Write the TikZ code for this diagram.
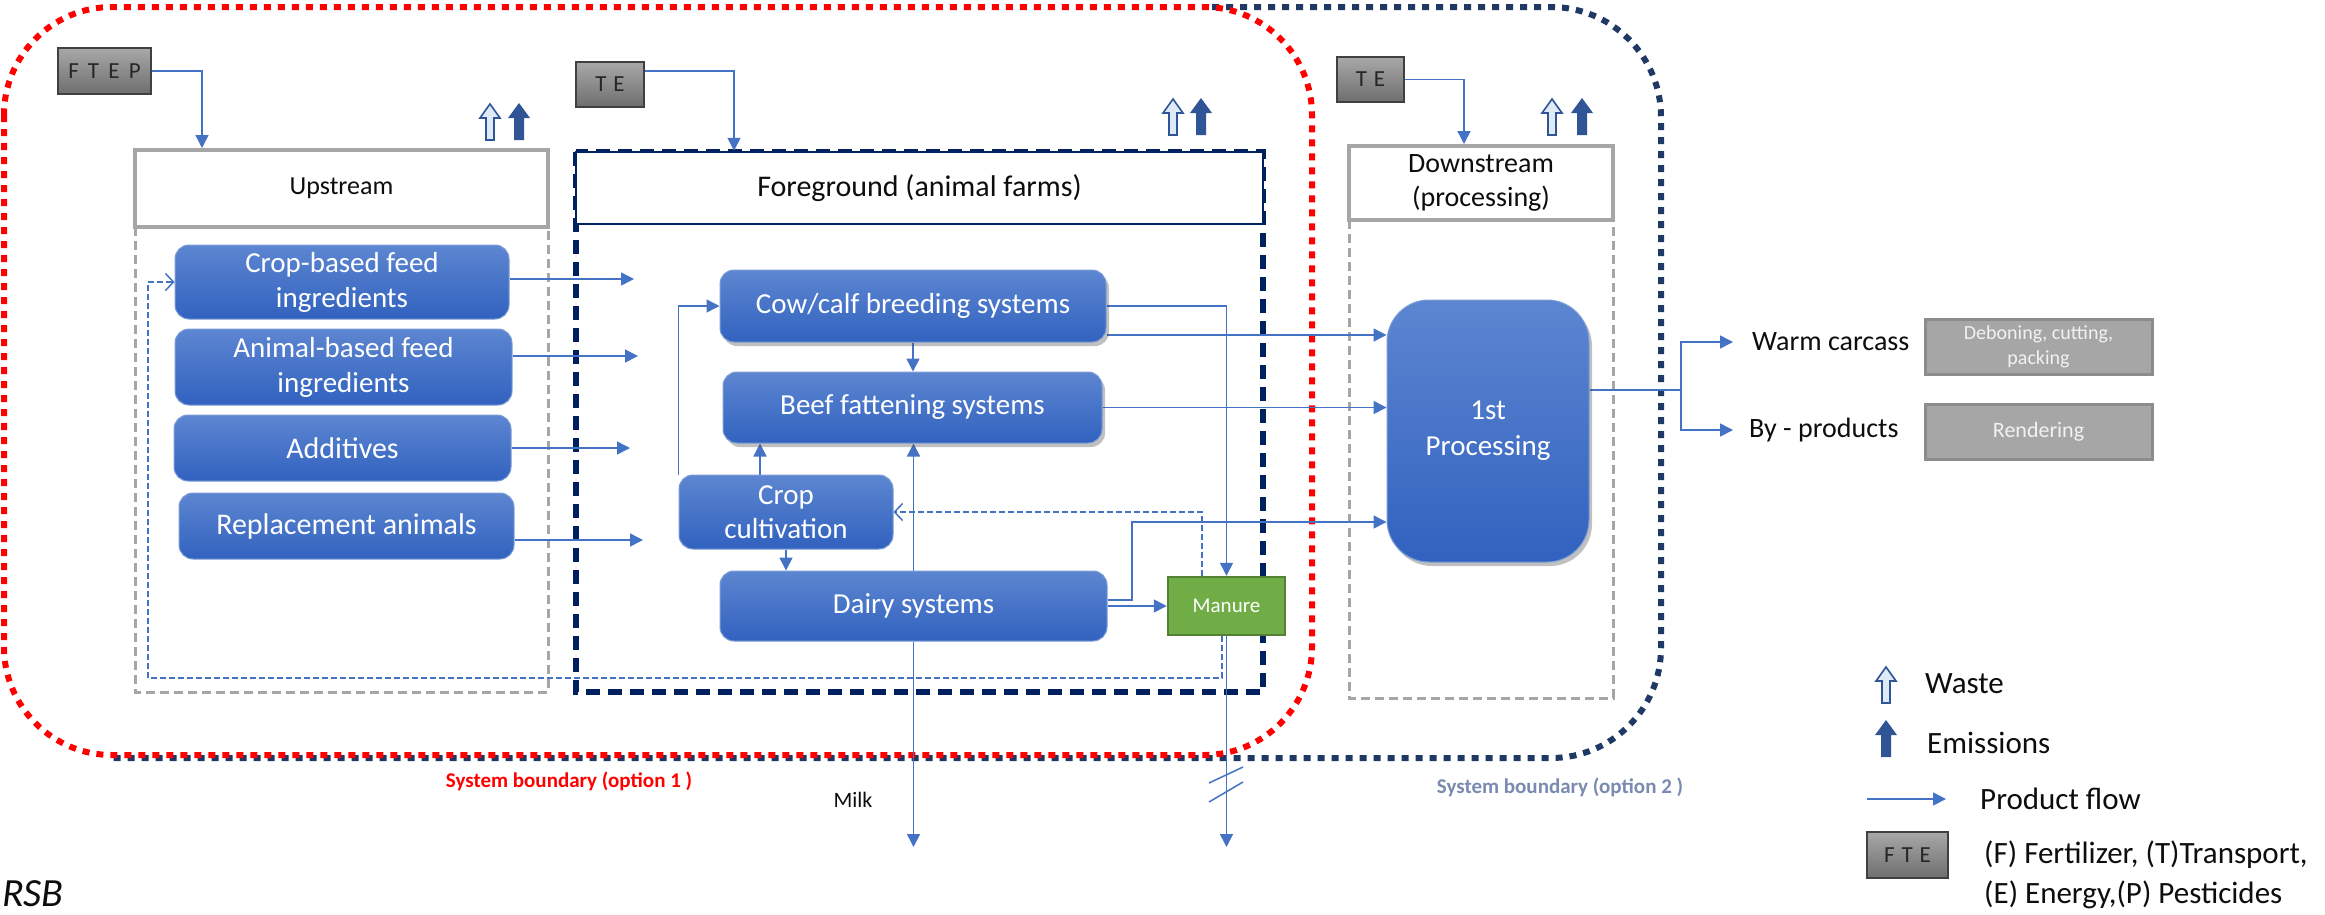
\documentclass[tikz,border=0pt]{standalone}
\usepackage{fontspec}
\setmainfont{Carlito}
\usetikzlibrary{arrows.meta,shadows}
\pgfdeclarelayer{bg}
\pgfsetlayers{bg,main}
\definecolor{flowblue}{HTML}{4472C4}
\definecolor{bluetop}{HTML}{5D86D1}
\definecolor{bluebot}{HTML}{3162BF}
\definecolor{navy}{HTML}{002060}
\definecolor{navyb}{HTML}{1F3864}
\definecolor{emis}{HTML}{2F5597}
\definecolor{wastefill}{HTML}{DEEBF7}
\definecolor{grayline}{HTML}{A6A6A6}
\definecolor{manfill}{HTML}{70AD47}
\definecolor{manline}{HTML}{548235}
\definecolor{opttwo}{HTML}{7A8AB0}
\definecolor{gtop}{HTML}{A8A8A8}
\definecolor{gbot}{HTML}{6E6E6E}
\definecolor{outgray}{HTML}{A6A6A6}
\definecolor{txt}{HTML}{0D0D0D}
\newcommand{\fsz}[2]{\fontsize{#1}{#2}\selectfont}
\begin{document}
\begin{tikzpicture}[x=1pt,y=-1pt,
  bluebox/.style={draw=flowblue!70!white, line width=1, rounded corners=14,
    top color=bluetop, bottom color=bluebot, text=white, align=center,
    inner sep=0, font=\fsz{29}{35}},
  shad/.style={drop shadow={shadow xshift=3pt, shadow yshift=-4pt, opacity=0.35, fill=black!70}},
  headbox/.style={draw=grayline, line width=4, fill=white, inner sep=0, align=center, text=txt},
  graybox/.style={draw=black!75, line width=2, top color=gtop, bottom color=gbot,
    text=black!85, inner sep=0, font=\fsz{23}{27}},
  outbox/.style={draw=black!45, line width=3, fill=outgray, text=white!95!black,
    align=center, inner sep=0},
  flowline/.style={draw=flowblue, line width=1.5},
  flow/.style={flowline, -{Triangle[length=13pt,width=13pt]}},
  dflow/.style={flowline, dash pattern=on 6pt off 3pt, -{Straight Barb[length=8pt,width=17pt]}},
  graydash/.style={draw=grayline, line width=3, dash pattern=on 9pt off 5pt},
  navydash/.style={draw=navy, line width=6, dash pattern=on 14pt off 8pt},
  legtext/.style={anchor=west, inner sep=0, text=txt},
  pics/wastearr/.style={code={\draw[emis, line width=1.6, fill=wastefill]
    (-4,0) -- (-4,-22) -- (-10,-22) -- (0,-36) -- (10,-22) -- (4,-22) -- (4,0) -- cycle;}},
  pics/emisarr/.style={code={\fill[emis]
    (-5,0) -- (-5,-22) -- (-11,-22) -- (0,-37) -- (11,-22) -- (5,-22) -- (5,0) -- cycle;}}
]
\useasboundingbox (0,0) rectangle (2325,914);

% ---------- header boxes
\node[headbox, minimum width=413, minimum height=77, font=\fsz{26}{31}] (uphead) at (341.5,188.5) {Upstream};
\node[headbox, draw=navy, line width=2.5, minimum width=687, minimum height=72, font=\fsz{30}{36}] (fghead) at (919.5,188) {Foreground (animal farms)};
\node[headbox, minimum width=264, minimum height=74, font=\fsz{28}{34}] (dshead) at (1481,183) {Downstream\\(processing)};

% ---------- input boxes
\node[graybox, minimum width=93, minimum height=46] (ftep) at (104.5,71) {\addfontfeature{LetterSpace=40}FTEP};
\node[graybox, minimum width=68, minimum height=45] (teone) at (610,84.5) {\addfontfeature{LetterSpace=30}TE};
\node[graybox, minimum width=67, minimum height=45] (tetwo) at (1370.5,79.5) {\addfontfeature{LetterSpace=30}TE};

% ---------- upstream boxes
\node[bluebox, minimum width=334, minimum height=74] (cropfeed) at (342,282) {Crop-based feed\\ingredients};
\node[bluebox, minimum width=337, minimum height=76] (animfeed) at (343.5,367) {Animal-based feed\\ingredients};
\node[bluebox, minimum width=337, minimum height=66, font=\fsz{30}{36}] (additives) at (342.5,448) {Additives};
\node[bluebox, minimum width=335, minimum height=66, font=\fsz{30}{36}] (replace) at (346.5,526) {Replacement animals};

% ---------- foreground boxes
\node[bluebox, shad, minimum width=386, minimum height=72] (cow) at (913,306) {Cow/calf breeding systems};
\node[bluebox, shad, minimum width=379, minimum height=71] (beef) at (912.5,407.5) {Beef fattening systems};
\node[bluebox, minimum width=214, minimum height=74, font=\fsz{29}{34}] (crop) at (786,512) {Crop\\cultivation};
\node[bluebox, minimum width=387, minimum height=70] (dairy) at (913.5,606) {Dairy systems};
\node[draw=manline, line width=2.5, fill=manfill, text=white, inner sep=0,
  minimum width=117, minimum height=58, font=\fsz{21}{25}] (manure) at (1226.5,606) {Manure};

% ---------- downstream
\node[bluebox, shad, rounded corners=42, minimum width=202, minimum height=262, font=\fsz{29}{36}] (proc) at (1488,431) {1st\\Processing};
\node[legtext, font=\fsz{28}{34}] (warm) at (1752,342) {Warm carcass};
\node[legtext, font=\fsz{28}{34}] (byprod) at (1749,430) {By - products};
\node[outbox, minimum width=227, minimum height=55, font=\fsz{20}{25}] (debone) at (2038.5,346.5) {Deboning, cutting,\\packing};
\node[outbox, minimum width=227, minimum height=55, font=\fsz{22}{26}] (render) at (2038.5,431.5) {Rendering};

% ---------- coordinates
\coordinate (upx) at (202,0);
\coordinate (fgx) at (734,0);
\coordinate (dsx) at (1464,0);
\coordinate (teoney) at (0,71);
\coordinate (in1) at (634,279);
\coordinate (in2) at (638,356);
\coordinate (in3) at (630,448);
\coordinate (in4) at (643,540);
\coordinate (cbx) at (760,0);
\coordinate (cpy) at (0,335);
\coordinate (dp1) at (1132,600);
\coordinate (dp2) at (1132,522);
\coordinate (milkend) at (913.5,847);
\coordinate (manend) at (1226.5,847);
\coordinate (md) at (1202,512);
\coordinate (ml1) at (1222,678);
\coordinate (ml2) at (148,678);
\coordinate (ml3) at (148,282);
\coordinate (split) at (1681,390);

\begin{pgfonlayer}{bg}
\fill[white] (0,0) rectangle (2325,914);
% system boundaries
\draw[draw=navyb, line width=6, dash pattern=on 7pt off 7pt, rounded corners=110]
  (1212,7) -- (1661,7) -- (1661,758) -- (112,758);
\draw[draw=red, line width=6, dash pattern=on 7pt off 7pt, rounded corners=108]
  (4,7) rectangle (1312,755);
% bodies
\draw[graydash] (135,227) rectangle (548,692);
\draw[graydash] (1349,220) rectangle (1613,698);
\draw[navydash] (576,152) rectangle (1263,692);

% inputs
\draw[flow] (ftep.east) -| (uphead.north -| upx);
\draw[flow] (teone.east |- teoney) -| (fghead.north -| fgx);
\draw[flow] (tetwo.east) -| (dshead.north -| dsx);

% upstream to foreground
\draw[flow] (cropfeed.east |- in1) -- (in1);
\draw[flow] (animfeed.east |- in2) -- (in2);
\draw[flow] (additives.east |- in3) -- (in3);
\draw[flow] (replace.east |- in4) -- (in4);

% foreground
\draw[flow] (cow.south) -- (beef.north -| cow.south);
\draw[flow] (crop.north -| cbx) -- (beef.south -| cbx);
\draw[flow] (crop.north west) |- (cow.west);
\draw[flow] (crop.south) -- (dairy.north -| crop.south);
\draw[flow] (dairy.north) -- (beef.south -| dairy.north);
\draw[flow] (dairy.south) -- (milkend);
\draw[flow] (dairy.east) -- (manure.west);
\draw[flow] (dairy.east |- dp1) -- (dp1) -- (dp2) -- (proc.west |- dp2);
\draw[flow] (cow.east) -| (manure.north);
\draw[flow] (cow.east |- cpy) -- (proc.west |- cpy);
\draw[flow] (beef.east) -- (proc.west |- beef.east);
\draw[flow] (manure.south) -- (manend);
\draw[flowline] (1209,783) -- (1243,767);
\draw[flowline] (1209,802) -- (1243,782);
\draw[dflow] (manure.north -| md) -- (md) -- (crop.east);
\draw[dflow] (manure.south -| ml1) -- (ml1) -- (ml2) -- (ml3) -- (cropfeed.west);

% outputs
\draw[flowline] (proc.east |- split) -- (split);
\draw[flow] (split) |- ([xshift=-19pt]warm.west);
\draw[flow] (split) |- ([xshift=-16pt]byprod.west);
\end{pgfonlayer}

% ---------- waste / emissions
\pic at (490,140) {wastearr};
\pic at (519,140) {emisarr};
\pic at (1173,135) {wastearr};
\pic at (1201,135) {emisarr};
\pic at (1552,135) {wastearr};
\pic at (1582,135) {emisarr};

% ---------- labels
\node[font=\fsz{21}{25}\bfseries, text=red, inner sep=0] (optone) at (569,781) {System boundary (option 1 )};
\node[font=\fsz{21}{25}\bfseries, text=opttwo, inner sep=0] (opttwolbl) at (1560,787) {System boundary (option 2 )};
\node[font=\fsz{22}{26}, text=txt, inner sep=0] (milk) at (853,800) {Milk};
\node[anchor=base west, font=\fsz{40}{44}\itshape, text=txt, inner sep=0] (rsb) at (2,906) {RSB};

% ---------- legend
\pic at (1886,703) {wastearr};
\pic at (1886,757) {emisarr};
\node[legtext, font=\fsz{31}{37}] (lwaste) at (1925,684) {Waste};
\node[legtext, font=\fsz{31}{37}] (lemis) at (1927,743) {Emissions};
\coordinate (lgs) at (1867,799);
\coordinate (lge) at (1946,799);
\draw[flow] (lgs) -- (lge);
\node[legtext, font=\fsz{31}{37}] (lflow) at (1980,799) {Product flow};
\node[graybox, minimum width=81, minimum height=46] (lfte) at (1907.5,855) {\addfontfeature{LetterSpace=30}FTE};
\node[legtext, align=left, font=\fsz{31}{40}] (lftetext) at (1984,875) {(F) Fertilizer, (T)Transport,\\(E) Energy,(P) Pesticides};
\end{tikzpicture}
\end{document}
